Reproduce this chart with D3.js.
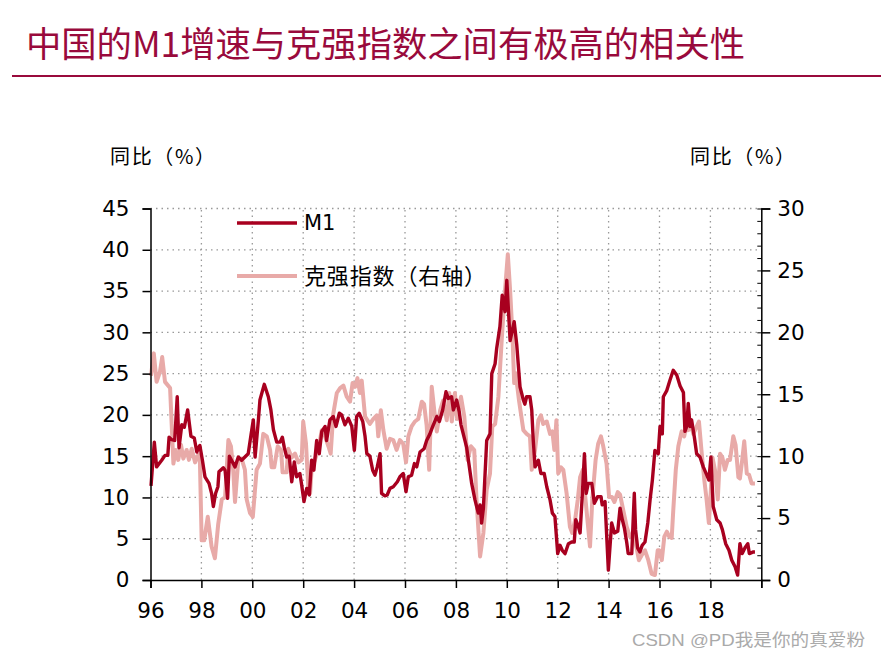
<!DOCTYPE html>
<html>
<head>
<meta charset="utf-8">
<script src="https://cdn.jsdelivr.net/npm/d3@7"></script>
<style>
body { margin: 0; background: #fff; }
svg text { font-family: "DejaVu Sans", Verdana, sans-serif; }
.cjk { font-family: "Noto Sans CJK SC", sans-serif; }
</style>
</head>
<body>
<div id="chart"></div>
<script>
var m1Year = [1996.02,1996.15,1996.24,1996.44,1996.57,1996.68,1996.73,1996.83,1996.95,1997.05,1997.12,1997.23,1997.33,1997.46,1997.59,1997.72,1997.82,1997.88,1997.94,
  1998.04,1998.14,1998.30,1998.40,1998.47,1998.56,1998.65,1998.69,1998.86,1998.93,1999.03,1999.10,1999.32,1999.45,1999.58,1999.71,1999.84,1999.95,
  2000.04,2000.11,2000.24,2000.30,2000.47,2000.63,2000.73,2000.83,2000.96,2001.09,2001.18,2001.26,2001.35,2001.45,2001.55,2001.65,2001.74,2001.87,2001.94,
  2002.03,2002.14,2002.24,2002.33,2002.42,2002.53,2002.63,2002.73,2002.86,2002.92,2003.05,2003.18,2003.29,2003.42,2003.51,2003.64,2003.77,2003.91,
  2004.01,2004.10,2004.20,2004.34,2004.43,2004.50,2004.62,2004.73,2004.82,2004.91,2005.02,2005.08,2005.21,2005.30,2005.41,2005.54,2005.70,2005.80,2005.93,
  2006.04,2006.13,2006.26,2006.37,2006.46,2006.59,2006.75,2006.85,2006.98,2007.09,2007.25,2007.35,2007.48,2007.61,2007.70,2007.83,2007.90,
  2008.03,2008.13,2008.20,2008.42,2008.51,2008.62,2008.75,2008.88,2008.95,2009.01,2009.08,2009.21,2009.34,2009.41,2009.54,2009.60,2009.73,2009.82,2009.93,
  2010.00,2010.13,2010.29,2010.39,2010.52,2010.65,2010.71,2010.78,2010.91,2010.98,2011.04,2011.11,2011.24,2011.34,2011.47,2011.57,2011.70,2011.79,2011.89,
  2012.00,2012.09,2012.18,2012.29,2012.42,2012.55,2012.65,2012.71,2012.81,2012.88,2012.97,2013.05,2013.12,2013.20,2013.34,2013.44,2013.57,2013.70,2013.75,2013.86,
  2013.99,2014.12,2014.23,2014.36,2014.45,2014.54,2014.62,2014.71,2014.77,2014.91,2015.01,2015.06,2015.14,2015.23,2015.32,2015.43,2015.54,2015.63,2015.72,2015.82,2015.95,
  2016.02,2016.11,2016.15,2016.28,2016.41,2016.54,2016.68,2016.81,2016.94,2017.00,2017.07,2017.13,2017.20,2017.26,2017.37,2017.46,2017.59,2017.72,2017.86,2017.94,
  2018.02,2018.11,2018.25,2018.38,2018.47,2018.60,2018.73,2018.84,2018.97,2019.07,2019.16,2019.25,2019.36,2019.47,2019.53,2019.69,2019.75]
var m1Val = [11.4,16.7,13.7,14.5,15.1,15.1,17.3,17.0,16.9,22.2,16.0,18.8,18.5,20.6,17.4,17.2,15.5,16.0,16.3,
  14.5,12.5,11.7,10.5,8.9,10.5,11.3,13.1,13.6,13.3,9.9,15.0,13.7,14.9,14.5,14.9,15.3,17.6,
  19.4,14.9,19.4,21.8,23.7,22.2,20.6,18.2,16.7,16.7,17.3,16.0,14.9,15.0,11.9,14.3,12.5,12.9,11.5,
  9.5,11.1,10.3,14.5,13.3,16.9,15.3,18.0,18.6,16.9,19.4,19.8,18.6,20.2,20.0,18.8,19.6,18.6,
  15.7,19.8,20.2,19.2,17.4,15.3,15.0,13.3,12.7,13.7,15.3,10.5,10.2,10.3,11.1,11.3,11.9,12.5,12.9,
  10.7,12.5,12.7,14.1,13.7,15.5,15.9,16.9,17.7,18.6,19.8,19.2,20.6,22.8,22.0,22.2,20.6,
  21.8,20.4,18.8,16.1,14.1,11.7,9.7,8.1,9.1,6.9,8.7,16.9,17.7,25.0,26.2,28.0,30.7,34.5,32.5,
  36.3,29.0,31.3,28.5,23.4,21.8,21.3,22.2,22.2,20.6,16.9,13.7,14.5,12.9,12.9,11.3,9.7,8.1,7.7,
  3.2,4.2,3.6,3.2,4.4,4.6,4.6,7.3,6.5,5.7,10.5,15.3,10.5,11.7,11.7,9.3,10.1,10.1,9.1,9.5,
  1.2,6.9,5.7,5.9,8.7,7.3,6.3,4.6,3.2,3.2,10.5,6.1,3.9,3.4,4.2,4.6,6.9,9.7,12.1,15.7,15.3,
  18.6,17.7,22.2,22.9,24.2,25.4,24.8,23.5,22.7,18.0,18.6,21.4,18.6,19.4,17.3,15.3,14.9,13.7,12.7,12.1,
  14.9,8.9,7.3,6.9,6.1,4.4,3.6,2.4,1.6,0.6,4.4,3.2,3.9,4.4,3.2,3.4,3.4]

var kqYear = [1996.02,1996.13,1996.24,1996.37,1996.46,1996.57,1996.77,1996.90,1996.99,1997.09,1997.20,1997.29,1997.42,1997.51,1997.62,1997.75,1997.88,1997.94,
  1998.01,1998.11,1998.25,1998.40,1998.53,1998.66,1998.80,1998.93,1999.06,1999.16,1999.25,1999.32,1999.45,1999.58,1999.71,1999.78,1999.91,
  2000.02,2000.17,2000.30,2000.43,2000.57,2000.70,2000.76,2000.86,2001.00,2001.13,2001.19,2001.35,2001.41,2001.55,2001.68,2001.81,2001.94,
  2002.00,2002.11,2002.20,2002.27,2002.33,2002.46,2002.59,2002.73,2002.86,2002.99,2003.08,2003.18,2003.32,2003.45,2003.58,2003.71,2003.84,2003.94,
  2004.04,2004.13,2004.23,2004.30,2004.43,2004.62,2004.75,2004.89,2004.95,2005.05,2005.15,2005.28,2005.41,2005.54,2005.67,2005.80,2005.93,
  2006.04,2006.13,2006.26,2006.39,2006.52,2006.66,2006.75,2006.85,2006.95,2007.05,2007.15,2007.25,2007.38,2007.50,2007.64,2007.74,2007.84,2007.96,
  2008.05,2008.20,2008.33,2008.46,2008.59,2008.72,2008.81,2008.95,2009.08,2009.21,2009.34,2009.43,2009.54,2009.67,2009.80,2009.90,
  2010.04,2010.13,2010.22,2010.29,2010.35,2010.48,2010.65,2010.78,2010.91,2010.98,2011.11,2011.24,2011.34,2011.43,2011.57,2011.70,2011.79,2011.87,2011.95,
  2012.02,2012.13,2012.22,2012.35,2012.48,2012.57,2012.68,2012.79,2012.88,2012.99,2013.07,2013.18,2013.27,2013.36,2013.49,2013.59,2013.70,2013.79,2013.92,
  2014.02,2014.13,2014.23,2014.36,2014.45,2014.58,2014.71,2014.84,2014.97,2015.10,2015.19,2015.30,2015.43,2015.56,2015.69,2015.82,2015.93,
  2015.99,2016.09,2016.19,2016.29,2016.38,2016.48,2016.54,2016.64,2016.74,2016.87,2016.97,2017.07,2017.13,2017.24,2017.33,2017.46,2017.55,
  2017.66,2017.76,2017.85,2017.94,2018.02,2018.08,2018.18,2018.29,2018.38,2018.47,2018.57,2018.68,2018.77,2018.90,2018.99,
  2019.10,2019.16,2019.25,2019.33,2019.43,2019.52,2019.62,2019.75]
var kqVal = [16.5,18.3,16.0,16.8,18.0,16.0,15.5,9.4,10.5,9.7,10.9,9.8,10.5,9.7,10.6,9.5,10.1,9.7,
  3.2,3.2,5.1,2.7,1.75,4.5,6.5,6.7,11.3,10.8,8.9,6.3,9.7,9.8,8.9,6.5,5.4,
  5.1,8.9,9.4,11.8,11.6,10.5,9.1,9.1,10.8,10.5,8.7,8.7,10.6,9.9,10.2,9.5,9.7,
  12.8,11.0,7.5,7.0,8.9,9.7,10.5,12.1,11.6,10.8,10.2,13.4,15.1,15.5,15.7,14.8,14.4,15.9,
  15.6,16.3,15.1,16.1,13.2,12.6,13.0,13.3,11.6,13.7,12.1,10.6,11.4,11.3,10.5,11.3,11.0,
  9.5,11.6,12.4,12.8,13.0,14.4,14.2,12.5,8.9,15.6,13.7,12.0,13.7,14.5,12.9,15.1,12.8,15.1,
  13.0,14.8,13.2,9.7,10.8,10.5,6.5,1.9,3.8,7.3,8.6,12.4,12.6,14.8,19.4,22.6,
  26.3,23.4,19.9,15.9,16.7,14.5,12.1,11.8,11.6,8.9,10.5,12.9,13.3,12.6,12.8,11.8,12.0,10.5,12.9,
  8.6,9.1,8.9,7.0,4.3,3.8,4.8,6.5,8.3,8.9,7.0,4.6,2.7,6.5,9.7,11.0,11.6,10.8,9.4,
  6.7,6.7,6.3,7.1,6.9,5.6,4.3,3.5,3.8,2.6,1.6,2.0,2.4,1.6,0.5,0.4,2.4,
  2.4,1.6,3.5,3.9,3.5,3.4,5.6,8.9,10.8,12.0,11.6,12.6,12.1,12.5,11.8,12.4,12.8,
  10.2,8.1,6.5,4.6,7.3,9.9,8.9,6.5,10.2,9.9,8.9,9.7,9.7,11.6,10.9,
  8.3,8.2,9.7,11.2,8.6,8.5,7.8,7.8]

var yearTicks = d3.range(1996, 2020, 2)
var leftTicks = d3.range(0, 50, 5)
var rightTicks = d3.range(0, 35, 5)
var titleText = '中国的M1增速与克强指数之间有极高的相关性'
var legendNames = ['M1', '克强指数（右轴）']

var W = 881, H = 660
var red = '#a8001f', pink = '#e8aaa8', titleRed = '#990a3c'
var x = d3.scaleLinear().domain([1996, 2020]).range([150.5, 761.3])
var yL = d3.scaleLinear().domain([0, 45]).range([580, 208.5])
var yR = d3.scaleLinear().domain([0, 30]).range([580, 208.5])

var svg = d3.select('#chart').append('svg')
            .attr('width', W)
            .attr('height', H)

svg.append('text').attr('class','cjk')
   .attr('x', 26).attr('y', 57)
   .attr('textLength', 719).attr('lengthAdjust','spacingAndGlyphs')
   .style('font-size','35px').style('fill', titleRed)
   .text(titleText)
svg.append('line')
   .attr('x1', 12).attr('x2', W).attr('y1', 76).attr('y2', 76)
   .style('stroke', titleRed).style('stroke-width', 2)

// dotted grid
var grid = svg.append('g').style('stroke','#999').style('stroke-width',1.3).style('stroke-dasharray','1.5,4')
grid.selectAll('.h').data(leftTicks.filter(d=>d>0)).enter().append('line')
    .attr('x1', x(1996)).attr('x2', x(2020))
    .attr('y1', d=>yL(d)).attr('y2', d=>yL(d))
grid.selectAll('.v').data(yearTicks.filter(d=>d>1996)).enter().append('line')
    .attr('x1', d=>x(d)).attr('x2', d=>x(d))
    .attr('y1', yL(0)).attr('y2', yL(45))

// lines
var kqLine = d3.line().x((d,i)=>x(kqYear[i])).y(d=>yR(d))
var m1Line = d3.line().x((d,i)=>x(m1Year[i])).y(d=>yL(d))
svg.append('path').datum(kqVal).attr('d', kqLine)
   .style('fill','none').style('stroke', pink).style('stroke-width', 4).style('stroke-linejoin','round')
svg.append('path').datum(m1Val).attr('d', m1Line)
   .style('fill','none').style('stroke', red).style('stroke-width', 3.4).style('stroke-linejoin','round')

// axes
var fmtYear = d => d3.format('02d')(d % 100)
var xAxis = svg.append('g').attr('transform','translate(0,580)')
    .call(d3.axisBottom(x).tickValues(yearTicks.concat([2020])).tickSize(8).tickPadding(15).tickFormat(d => d < 2020 ? fmtYear(d) : ''))
var lAxis = svg.append('g').attr('transform','translate(' + x(1996) + ',0)')
    .call(d3.axisLeft(yL).tickValues(leftTicks).tickSize(8).tickPadding(13))
var rAxis = svg.append('g').attr('transform','translate(' + x(2020) + ',0)')
    .call(d3.axisRight(yR).tickValues(rightTicks).tickSize(9).tickPadding(7))
svg.append('g').attr('transform','translate(' + x(2020) + ',0)')
   .call(d3.axisLeft(yR).tickValues(d3.range(0, 30.5, 1)).tickSize(4).tickFormat(''))
   .select('.domain').remove()
;[xAxis, lAxis, rAxis].forEach(a => {
	a.selectAll('text').style('font-size','21.5px').style('fill','#000')
	a.select('.domain').style('stroke','#000').style('stroke-width',1.5)
	a.selectAll('.tick line').style('stroke','#000').style('stroke-width',1.5)
})
xAxis.selectAll('text').attr('dy','0.71em')

// axis unit labels
;[[110, 215], [690, 795]].forEach(p => {
	svg.append('text').attr('class','cjk').attr('x',p[0]).attr('y',164)
	   .attr('textLength', p[1]-p[0]).attr('lengthAdjust','spacing')
	   .style('font-size','20px').text('同比（%）')
})

// legend
var legend = svg.append('g')
legendNames.forEach((n,i) => {
	var ly = 223 + i*53
	legend.append('line').attr('x1',237).attr('x2',297).attr('y1',ly).attr('y2',ly)
	      .style('stroke', i===0 ? red : pink).style('stroke-width', i===0 ? 3.4 : 4)
	var t = legend.append('text').attr('class', i===0 ? '' : 'cjk')
	      .attr('x',304).attr('y',ly).attr('dy','0.35em')
	      .style('font-size', i===0 ? '21px' : '22px').text(n)
	if (i===1) t.attr('textLength',182).attr('lengthAdjust','spacing')
})

svg.append('text').attr('x',632).attr('y',646)
   .attr('textLength',233).attr('lengthAdjust','spacingAndGlyphs')
   .style('font-family','"Liberation Sans", "Noto Sans CJK SC", sans-serif')
   .style('font-size','17px').style('fill','#aaa').text('CSDN @PD我是你的真爱粉')
</script>
</body>
</html>
